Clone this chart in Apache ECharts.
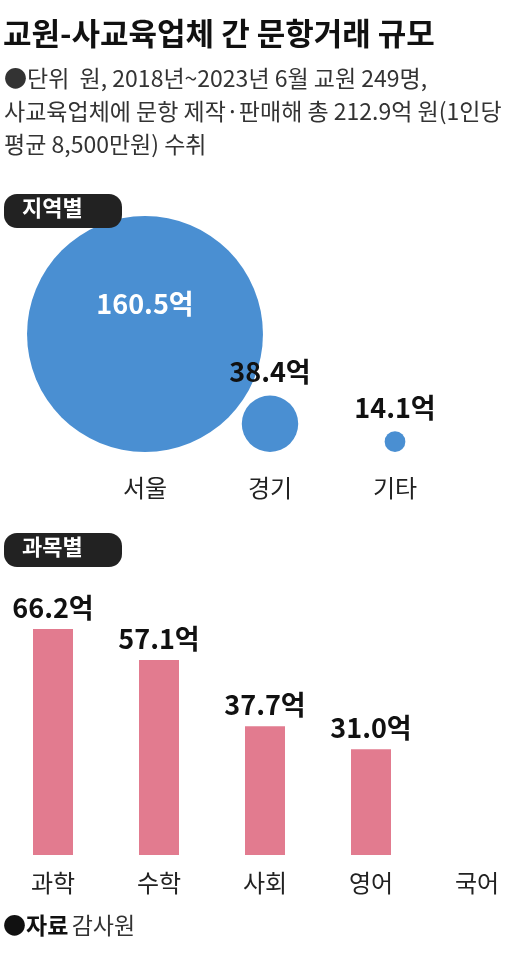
<!DOCTYPE html><html><head><meta charset="utf-8">
<script src="https://cdn.jsdelivr.net/npm/echarts@6/dist/echarts.min.js"></script>
<style>html,body{margin:0;padding:0;background:#fff}#c{width:530px;height:962px}</style></head><body><div id="c"></div><script>
const regions=['서울','경기','기타'];
const regionValues=[160.5,38.4,14.1];
const subjects=['과학','수학','사회','영어','국어'];
const subjectValues=[66.2,57.1,37.7,31.0,null];
const F='"Noto Sans CJK KR"';
const chart=echarts.init(document.getElementById('c'));
const badge=(t,y)=>({type:'group',left:4,top:y,z:100,children:[
 {type:'rect',z:100,shape:{x:0,y:0,width:118,height:34,r:13},style:{fill:'#222'}},
 {type:'text',z:101,style:{x:18,y:3,text:t,fill:'#fff',font:'bold 22px '+F}}]});
chart.setOption({
 animation:false,
 textStyle:{fontFamily:F},
 graphic:[
  {type:'text',left:3,top:18,style:{text:'교원-사교육업체 간 문항거래 규모',fill:'#111',font:'bold 31px '+F}},
  {type:'text',left:4,top:62,style:{text:'●단위  원, 2018년~2023년 6월 교원 249명,\n사교육업체에 문항 제작·판매해 총 212.9억 원(1인당\n평균 8,500만원) 수취',fill:'#333',font:'23px '+F,lineHeight:33}},
  badge('지역별',194),badge('과목별',533),
  {type:'text',left:3,top:914,style:{rich:{b:{font:'bold 23px '+F,fill:'#111'},n:{font:'23px '+F,fill:'#333'}},text:'{b|●자료} {n|감사원}'}}
 ],
 grid:[{left:82.5,width:375,top:200,bottom:510},{left:0,width:530,top:616,bottom:107}],
 xAxis:[
  {gridIndex:0,type:'category',data:regions,axisLine:{show:false},axisTick:{show:false},axisLabel:{fontSize:24,color:'#222',margin:24}},
  {gridIndex:1,type:'category',data:subjects,axisLine:{show:false},axisTick:{show:false},axisLabel:{fontSize:24,color:'#222',margin:16}}
 ],
 yAxis:[
  {gridIndex:0,type:'value',min:0,max:1,show:false},
  {gridIndex:1,type:'value',min:0,max:70,show:false}
 ],
 series:[
  {type:'scatter',xAxisIndex:0,yAxisIndex:0,z:2,
   data:regionValues.map((v,i)=>({value:[i,0],raw:v,symbolSize:v*1.47,symbolOffset:[0,-v*1.47/2],
    label:i===0?{show:true,position:'inside',offset:[0,-30],color:'#fff'}:{show:true,position:'top',distance:10,color:'#111'}})),
   itemStyle:{color:'#4a8fd2',opacity:1},
   label:{fontSize:27,fontWeight:'bold',formatter:p=>p.data.raw+'억'}},
  {type:'bar',xAxisIndex:1,yAxisIndex:1,data:subjectValues,barWidth:40,itemStyle:{color:'#e27b8f'},
   label:{show:true,position:'top',distance:8,fontSize:27,fontWeight:'bold',color:'#111',formatter:p=>p.value.toFixed(1)+'억'}}
 ]
});
</script></body></html>
